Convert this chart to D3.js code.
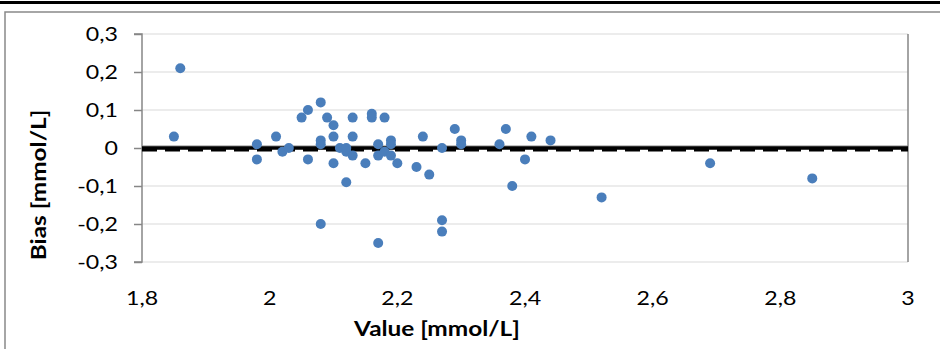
<!DOCTYPE html>
<html>
<head>
<meta charset="utf-8">
<script src="https://cdn.jsdelivr.net/npm/d3@7"></script>
<style>
  html, body { margin: 0; padding: 0; background: #fff; }
  svg { display: block; }
  text { font-family: Lato, "Open Sans", sans-serif; fill: #000; }
</style>
</head>
<body>
<svg id="chart" width="940" height="349"></svg>
<script>
// Measured value (x) and its bias against the reference method (y)
const valueX = [1.85, 1.86, 1.98, 1.98, 2.01, 2.02, 2.03, 2.05, 2.06, 2.06,
  2.08, 2.08, 2.08, 2.08, 2.09, 2.10, 2.10, 2.10, 2.11, 2.12,
  2.12, 2.12, 2.13, 2.13, 2.13, 2.15, 2.16, 2.16, 2.17, 2.17,
  2.17, 2.18, 2.18, 2.19, 2.19, 2.19, 2.20, 2.23, 2.24, 2.25,
  2.27, 2.27, 2.27, 2.29, 2.30, 2.30, 2.36, 2.37, 2.38, 2.40,
  2.41, 2.44, 2.52, 2.69, 2.85];
const bias = [0.03, 0.21, 0.01, -0.03, 0.03, -0.01, 0, 0.08, 0.10, -0.03,
  0.12, 0.02, 0.01, -0.20, 0.08, 0.06, 0.03, -0.04, 0, 0,
  -0.01, -0.09, 0.08, 0.03, -0.02, -0.04, 0.09, 0.08, 0.01, -0.02,
  -0.25, 0.08, -0.01, 0.02, 0.01, -0.02, -0.04, -0.05, 0.03, -0.07,
  0, -0.19, -0.22, 0.05, 0.02, 0.01, 0.01, 0.05, -0.10, -0.03,
  0.03, 0.02, -0.13, -0.04, -0.08];

// Horizontal reference lines: zero line and mean bias
const zeroLine = 0;
const meanBias = -0.006;

// Axis ticks and their labels (decimal comma)
const xTicks = [1.8, 2.0, 2.2, 2.4, 2.6, 2.8, 3.0];
const xTickLabels = ["1,8", "2", "2,2", "2,4", "2,6", "2,8", "3"];
const yTicks = [0.3, 0.2, 0.1, 0, -0.1, -0.2, -0.3];
const yTickLabels = ["0,3", "0,2", "0,1", "0", "-0,1", "-0,2", "-0,3"];

const xTitle = "Value [mmol/L]";
const yTitle = "Bias [mmol/L]";

const svg = d3.select("#chart");
const plot = { left: 142, right: 908, top: 34, bottom: 262 };

const x = d3.scaleLinear().domain([1.8, 3.0]).range([plot.left, plot.right]);
const y = d3.scaleLinear().domain([-0.3, 0.3]).range([plot.bottom, plot.top]);

// Text in this chart is set wide; stretch glyphs along the baseline
const stretch = 1.22;

// Top rule and chart frame
svg.append("rect").attr("x", 0).attr("y", 1).attr("width", 940).attr("height", 3).attr("fill", "#000");
svg.append("path")
  .attr("d", `M5,352 V12 H945`)
  .attr("fill", "none").attr("stroke", "#898989").attr("stroke-width", 1.5);

// Horizontal gridlines
svg.append("g").selectAll("line").data(yTicks).join("line")
  .attr("x1", plot.left).attr("x2", plot.right)
  .attr("y1", d => y(d)).attr("y2", d => y(d))
  .attr("stroke", "#d9d9d9").attr("stroke-width", 1);

// Vertical axis with outside ticks
const yAxis = d3.axisLeft(y).tickValues(yTicks).tickSize(8).tickFormat("");
const gy = svg.append("g").attr("transform", `translate(${plot.left},0)`).call(yAxis);
gy.select(".domain").attr("stroke", "#868686").attr("stroke-width", 1.5).attr("d", `M-8,${plot.top}H0V${plot.bottom}H-8`);
gy.selectAll(".tick line").attr("stroke", "#868686").attr("stroke-width", 1.5);

// Right frame of plot area
svg.append("line")
  .attr("x1", plot.right).attr("x2", plot.right)
  .attr("y1", plot.top).attr("y2", plot.bottom)
  .attr("stroke", "#868686").attr("stroke-width", 1.5);

// Horizontal axis line at zero
svg.append("line")
  .attr("x1", plot.left).attr("x2", plot.right)
  .attr("y1", y(0) - 2).attr("y2", y(0) - 2)
  .attr("stroke", "#868686").attr("stroke-width", 1.2);

// Reference lines
svg.append("line")
  .attr("x1", plot.left).attr("x2", plot.right)
  .attr("y1", y(meanBias)).attr("y2", y(meanBias))
  .attr("stroke", "#000").attr("stroke-width", 2.5).attr("stroke-dasharray", "15,8");
svg.append("line")
  .attr("x1", plot.left).attr("x2", plot.right)
  .attr("y1", y(zeroLine)).attr("y2", y(zeroLine))
  .attr("stroke", "#000").attr("stroke-width", 3.5);

// Data points
svg.append("g").selectAll("circle").data(valueX.map((v, i) => [v, bias[i]])).join("circle")
  .attr("cx", d => x(d[0])).attr("cy", d => y(d[1])).attr("r", 5)
  .attr("fill", "#4a7ebb");

// Tick labels
svg.append("g").selectAll("text").data(yTicks).join("text")
  .attr("transform", d => `translate(118,${y(d)}) scale(${stretch},1)`)
  .attr("text-anchor", "end").attr("dominant-baseline", "central")
  .attr("font-size", 19)
  .text((d, i) => yTickLabels[i]);

svg.append("g").selectAll("text").data(xTicks).join("text")
  .attr("transform", d => `translate(${x(d)},298) scale(${stretch},1)`)
  .attr("text-anchor", "middle").attr("dominant-baseline", "central")
  .attr("font-size", 19)
  .text((d, i) => xTickLabels[i]);

// Axis titles
svg.append("text")
  .attr("transform", `translate(437,328) scale(${stretch},1)`)
  .attr("text-anchor", "middle").attr("dominant-baseline", "central")
  .attr("font-size", 20).attr("font-weight", "bold")
  .text(xTitle);

svg.append("text")
  .attr("transform", `translate(38,185) rotate(-90) scale(${stretch},1)`)
  .attr("text-anchor", "middle").attr("dominant-baseline", "central")
  .attr("font-size", 20).attr("font-weight", "bold")
  .text(yTitle);
</script>
</body>
</html>
